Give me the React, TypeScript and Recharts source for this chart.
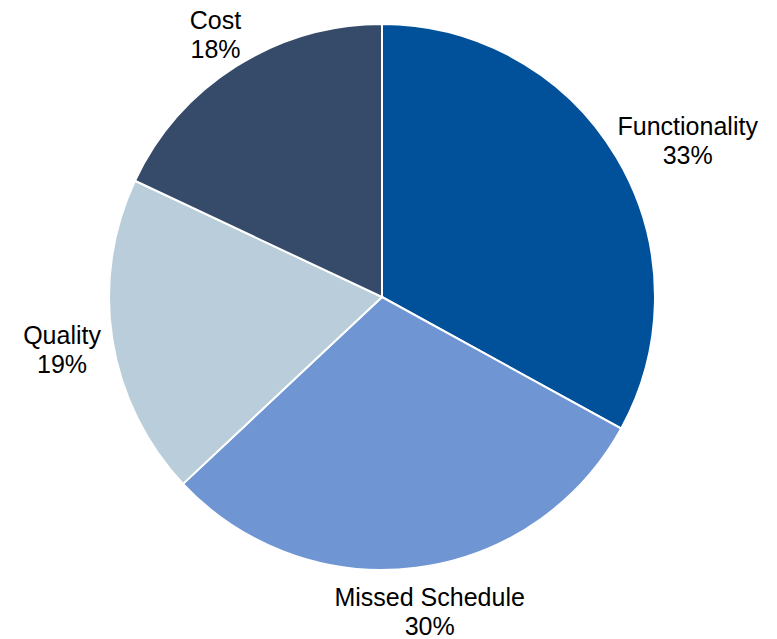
import React from "react";
import { Cell, Pie, PieChart } from "recharts";

const categories = ["Functionality", "Missed Schedule", "Quality", "Cost"];
const shares = [33, 30, 19, 18];
const colors = ["#00519A", "#6F96D3", "#B9CDDA", "#364B69"];

const data = categories.map((name, i) => ({ name, value: shares[i] }));

const RADIAN = Math.PI / 180;
const FONT_SIZE = 25;
const LINE_H = 29;
const FONT = "'Liberation Sans', Arial, sans-serif";

let ctx: CanvasRenderingContext2D | null = null;
const textWidth = (s: string) => {
	if (!ctx) ctx = document.createElement("canvas").getContext("2d");
	if (!ctx) return s.length * FONT_SIZE * 0.5;
	ctx.font = `${FONT_SIZE}px ${FONT}`;
	return ctx.measureText(s).width;
};

const renderLabel = (props: any) => {
	const { cx, cy, midAngle, outerRadius, name, value } = props;
	const ux = Math.cos(-midAngle * RADIAN);
	const uy = Math.sin(-midAngle * RADIAN);
	// label box sits just outside the edge, along the mid angle
	const w = Math.max(textWidth(name), textWidth(`${value}%`));
	const h = LINE_H * 2;
	const r = outerRadius + 12;
	const x = cx + r * ux + (w / 2) * ux;
	const y = cy + r * uy + (h / 2) * uy + 4;

	return (
		<text x={x} y={y} textAnchor="middle" fill="#000" fontFamily={FONT} fontSize={FONT_SIZE}>
			<tspan x={x} dy={-LINE_H / 2 + 8}>{name}</tspan>
			<tspan x={x} dy={LINE_H}>{value}%</tspan>
		</text>
	);
};

export default function App() {
	return (
		<div style={{ position: "absolute", left: 0, top: 0, background: "#fff" }}>
			<PieChart width={777} height={639} margin={{ top: 0, right: 0, bottom: 0, left: 0 }}>
				<Pie
					data={data}
					dataKey="value"
					nameKey="name"
					cx={382}
					cy={297}
					outerRadius={273}
					startAngle={90}
					endAngle={-270}
					stroke="#fff"
					strokeWidth={2}
					label={renderLabel}
					labelLine={false}
					isAnimationActive={false}
				>
					{data.map((d, i) => (
						<Cell key={d.name} fill={colors[i]} />
					))}
				</Pie>
			</PieChart>
		</div>
	);
}
